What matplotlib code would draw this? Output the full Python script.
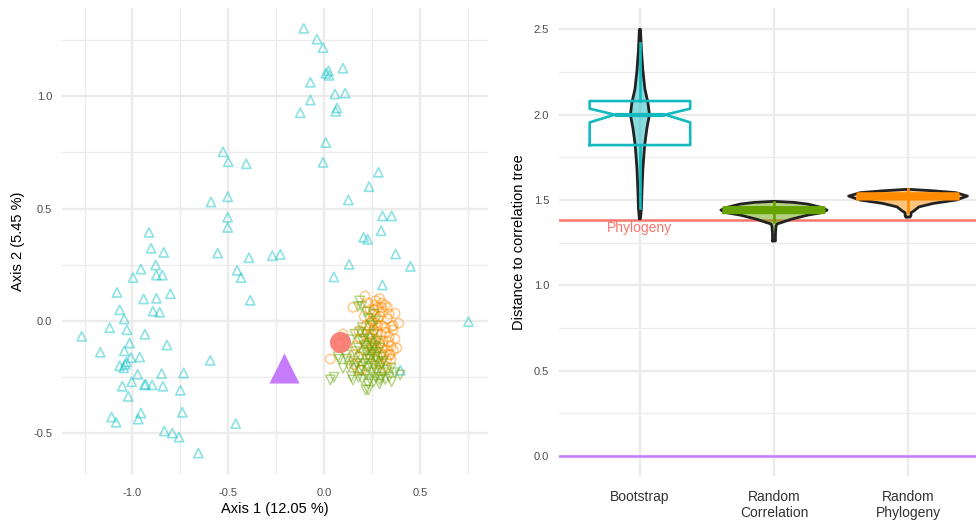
import numpy as np
import matplotlib
matplotlib.use("Agg")
import matplotlib.pyplot as plt

plt.rcParams['font.family'] = ['Liberation Sans', 'DejaVu Sans']

# ---- left panel: ordination points ----
boot_x = [-0.106, -0.037, -0.005, 0.023, 0.009, 0.026, 0.099, -0.071, 0.057, 0.110,
          -0.071, 0.068, 0.061, -0.124, 0.009, -0.005, -0.527, -0.500, -0.406, 0.284,
          0.235, 0.127, -0.590, -0.503, -0.503, -0.503, 0.305, 0.353, 0.298, 0.207,
          0.228, -0.914, -0.903, -0.837, -0.555, -0.392, -0.270, -0.228, 0.374, -0.879,
          -0.956, -0.454, -0.875, -0.844, -0.997, -0.433, 0.131, 0.451, 0.051, 0.305,
          -1.081, -0.875, -0.942, -0.802, -0.385, -1.067, -0.893, -0.858, -1.043, 0.754,
          -1.119, -1.029, -1.265, -0.935, -1.015, -0.820, -1.168, -1.043, -1.008, -0.962,
          -0.594, -1.031, -1.039, -1.067, -1.046, -0.848, -0.973, -0.733, -1.004, -0.931,
          -0.938, -0.897, -1.053, -0.841, -0.750, -1.022, -0.740, -0.956, -0.970, -1.109,
          -1.085, -0.461, -0.834, -0.792, -0.757, -0.656, 0.398]
boot_y = [1.301, 1.253, 1.215, 1.112, 1.101, 1.092, 1.124, 1.061, 1.009, 1.013,
          0.982, 0.947, 0.932, 0.926, 0.793, 0.705, 0.752, 0.708, 0.699, 0.661,
          0.597, 0.538, 0.529, 0.552, 0.461, 0.416, 0.467, 0.467, 0.401, 0.372,
          0.363, 0.394, 0.323, 0.305, 0.302, 0.281, 0.290, 0.296, 0.298, 0.249,
          0.231, 0.225, 0.204, 0.204, 0.193, 0.193, 0.252, 0.243, 0.196, 0.160,
          0.127, 0.101, 0.098, 0.121, 0.092, 0.050, 0.044, 0.039, 0.009, -0.003,
          -0.030, -0.039, -0.068, -0.059, -0.098, -0.107, -0.139, -0.133, -0.163, -0.160,
          -0.175, -0.182, -0.193, -0.199, -0.208, -0.234, -0.237, -0.231, -0.270, -0.281,
          -0.284, -0.284, -0.290, -0.290, -0.308, -0.335, -0.406, -0.409, -0.436, -0.427,
          -0.450, -0.456, -0.489, -0.498, -0.516, -0.587, -0.219]

rphy_x = [0.151, 0.099, 0.082, 0.033, 0.181, 0.188, 0.157, 0.214, 0.266, 0.301,
          0.319, 0.371, 0.353, 0.336, 0.345, 0.327, 0.362, 0.197, 0.24, 0.26,
          0.28, 0.25, 0.27, 0.29, 0.31, 0.30, 0.33, 0.26, 0.28, 0.24,
          0.22, 0.30, 0.32, 0.27, 0.29, 0.31, 0.25, 0.23, 0.34, 0.35,
          0.33, 0.30, 0.27, 0.25, 0.28, 0.31, 0.26, 0.29, 0.32, 0.24,
          0.22, 0.20, 0.19, 0.21, 0.23, 0.27, 0.29, 0.34, 0.36, 0.37,
          0.35, 0.38, 0.36, 0.26, 0.28, 0.30, 0.25, 0.32, 0.34, 0.29,
          0.21, 0.18, 0.17, 0.16, 0.39, 0.28, 0.31, 0.24, 0.33, 0.27]
rphy_y = [0.061, -0.058, -0.099, -0.169, -0.043, -0.218, -0.194, 0.111, 0.071, 0.079,
          0.071, 0.034, -0.025, -0.092, -0.151, -0.173, -0.129, -0.218, 0.05, 0.03,
          0.06, 0.00, -0.01, 0.02, 0.04, -0.02, 0.01, -0.04, -0.05, -0.03,
          -0.02, -0.06, -0.05, -0.08, -0.10, -0.09, -0.09, -0.07, -0.07, -0.11,
          -0.13, -0.12, -0.13, -0.12, -0.16, -0.15, -0.17, -0.19, -0.20, -0.15,
          -0.10, -0.05, -0.08, 0.02, 0.08, 0.09, 0.10, 0.03, -0.04, -0.08,
          -0.17, -0.12, -0.02, 0.05, -0.02, 0.06, -0.06, -0.03, -0.15, -0.22,
          -0.13, -0.16, -0.11, -0.15, -0.01, 0.01, -0.11, -0.01, 0.06, -0.11]

rcor_x = [0.186, 0.178, 0.160, 0.143, 0.073, 0.113, 0.160, 0.033, 0.052, 0.143,
          0.151, 0.195, 0.218, 0.197, 0.231, 0.292, 0.353, 0.397, 0.20, 0.22,
          0.24, 0.21, 0.23, 0.25, 0.22, 0.24, 0.26, 0.28, 0.27, 0.25,
          0.23, 0.21, 0.19, 0.18, 0.20, 0.26, 0.28, 0.30, 0.29, 0.31,
          0.27, 0.24, 0.22, 0.19, 0.17, 0.15, 0.13, 0.12, 0.16, 0.26,
          0.25, 0.23, 0.26, 0.22, 0.33, 0.34, 0.32, 0.30, 0.29, 0.26,
          0.35, 0.37, 0.25, 0.27, 0.24, 0.21, 0.19, 0.28, 0.23, 0.20,
          0.18, 0.10, 0.08, 0.27, 0.30, 0.25, 0.22, 0.29, 0.24, 0.31]
rcor_y = [0.089, 0.064, -0.059, -0.084, -0.159, -0.151, -0.136, -0.262, -0.250, -0.247,
          -0.262, -0.203, -0.307, 0.064, -0.307, -0.262, -0.270, -0.240, -0.03, -0.06,
          -0.08, -0.11, -0.13, -0.15, -0.17, -0.19, -0.20, -0.18, -0.22, -0.23,
          -0.21, -0.19, -0.16, -0.12, -0.09, -0.11, -0.14, -0.16, -0.21, -0.23,
          -0.25, -0.26, -0.24, -0.22, -0.19, -0.18, -0.20, -0.17, -0.21, -0.06,
          -0.02, 0.01, 0.03, 0.04, -0.22, -0.25, -0.26, -0.25, -0.28, -0.27,
          -0.21, -0.23, -0.10, -0.16, -0.12, -0.08, -0.05, -0.09, -0.28, -0.26,
          -0.25, -0.21, -0.17, 0.00, -0.19, -0.14, -0.14, -0.12, -0.17, -0.18]

phylo_pt = (0.082, -0.092)
cortree_pt = (-0.207, -0.210)

# ---- right panel: distance distributions ----
groups = ['Bootstrap', 'Random\nCorrelation', 'Random\nPhylogeny']
group_cols = ['#13B9BF', '#66A300', '#FF8C00']

# violin outlines: y levels and half widths (category units)
boot_vy = [1.39, 1.45, 1.55, 1.68, 1.82, 1.92, 2.00, 2.07, 2.15, 2.26, 2.38, 2.50]
boot_vw = [0.004, 0.011, 0.015, 0.022, 0.035, 0.052, 0.071, 0.060, 0.037, 0.022, 0.011, 0.004]
rcor_vy = [1.26, 1.30, 1.345, 1.36, 1.367, 1.387, 1.412, 1.425, 1.441, 1.457, 1.476, 1.486, 1.492]
rcor_vw = [0.011, 0.011, 0.015, 0.022, 0.052, 0.127, 0.254, 0.351, 0.396, 0.351, 0.254, 0.149, 0.007]
rphy_vy = [1.40, 1.41, 1.425, 1.437, 1.46, 1.48, 1.50, 1.523, 1.543, 1.554, 1.562]
rphy_vw = [0.015, 0.022, 0.022, 0.045, 0.082, 0.187, 0.358, 0.443, 0.358, 0.187, 0.022]

# notched box stats
q1 = [1.822, 1.425, 1.505]
med = [2.000, 1.441, 1.522]
q3 = [2.080, 1.457, 1.538]
whis_lo = [1.453, 1.370, 1.430]
whis_hi = [2.420, 1.490, 1.565]
notch_lo = [1.955, 1.436, 1.517]
notch_hi = [2.035, 1.446, 1.527]

phylogeny_dist = 1.383
cortree_dist = 0.0

fig = plt.figure(figsize=(9.76, 5.2), dpi=100)
ax1 = fig.add_axes([0.0635, 0.0885, 0.4365, 0.896])
ax2 = fig.add_axes([0.5727, 0.0846, 0.4273, 0.900])

grid_col = '#EBEBEB'
tick_col = '#4D4D4D'


def minimal(ax):
    for s in ax.spines.values():
        s.set_visible(False)
    ax.set_axisbelow(True)
    ax.grid(which='major', color=grid_col, lw=1.7)
    ax.grid(which='minor', color=grid_col, lw=0.9)
    ax.tick_params(which='both', length=0)


# left scatter
ax1.scatter(boot_x, boot_y, marker='^', s=44, facecolors='none',
            edgecolors='#00BFC4', linewidths=1.2, alpha=0.45, zorder=3)
ax1.scatter(rphy_x, rphy_y, marker='o', s=46, facecolors='none',
            edgecolors='#FF8C00', linewidths=1.1, alpha=0.45, zorder=3)
ax1.scatter(rcor_x, rcor_y, marker='v', s=46, facecolors='none',
            edgecolors='#66A300', linewidths=1.1, alpha=0.45, zorder=3)
ax1.scatter([phylo_pt[0]], [phylo_pt[1]], marker='o', s=230, color='#F8766D',
            alpha=0.9, linewidths=0, zorder=4)
ax1.scatter([cortree_pt[0]], [cortree_pt[1]], marker='^', s=470, color='#C77CFF',
            linewidths=0, zorder=4)

ax1.set_xlim(-1.368, 0.856)
ax1.set_ylim(-0.68, 1.391)
ax1.set_xticks([-1.0, -0.5, 0.0, 0.5])
ax1.set_xticklabels(['-1.0', '-0.5', '0.0', '0.5'])
ax1.set_xticks([-1.25, -0.75, -0.25, 0.25, 0.75], minor=True)
ax1.set_yticks([-0.5, 0.0, 0.5, 1.0])
ax1.set_yticklabels(['-0.5', '0.0', '0.5', '1.0'])
ax1.set_yticks([-0.25, 0.25, 0.75, 1.25], minor=True)
minimal(ax1)
ax1.tick_params(axis='x', labelsize=8, labelcolor=tick_col, pad=10)
ax1.tick_params(axis='y', labelsize=8, labelcolor=tick_col, pad=7)
ax1.set_xlabel('Axis 1 (12.05 %)', fontsize=10.5, labelpad=3)
ax1.set_ylabel('Axis 2 (5.45 %)', fontsize=10.5, labelpad=6)

# right violins + boxes
ax2.axhline(phylogeny_dist, color='#F8766D', lw=1.8, zorder=1.5)
ax2.axhline(cortree_dist, color='#C77CFF', lw=1.8, zorder=1.5)
ax2.text(1, phylogeny_dist - 0.048, 'Phylogeny', color='#F8766D', fontsize=10,
         ha='center', va='center', zorder=5)

violins = [(boot_vy, boot_vw), (rcor_vy, rcor_vw), (rphy_vy, rphy_vw)]
for i, (vy, vw) in enumerate(violins):
    pos = i + 1
    vy = np.array(vy)
    vw = np.array(vw)
    ax2.fill_betweenx(vy, pos - vw, pos + vw, color=group_cols[i], alpha=0.5,
                      lw=0, zorder=2)
    xs = np.concatenate([pos - vw, (pos + vw)[::-1], [pos - vw[0]]])
    ys = np.concatenate([vy, vy[::-1], [vy[0]]])
    ax2.plot(xs, ys, color='#222222', lw=2.0, solid_joinstyle='round',
             solid_capstyle='round', zorder=2.5)

    stats = [dict(med=med[i], q1=q1[i], q3=q3[i], whislo=whis_lo[i],
                  whishi=whis_hi[i], cilo=notch_lo[i], cihi=notch_hi[i], fliers=[])]
    c = group_cols[i]
    ax2.bxp(stats, positions=[pos], widths=0.75, shownotches=True,
            showcaps=False, showfliers=False, manage_ticks=False,
            boxprops=dict(color=c, lw=1.9),
            medianprops=dict(color=c, lw=3.0),
            whiskerprops=dict(color=c, lw=1.9),
            zorder=3)

ax2.set_xlim(0.396, 3.507)
ax2.set_ylim(-0.117, 2.625)
ax2.set_xticks([1, 2, 3])
ax2.set_xticklabels(groups)
ax2.set_yticks([0.0, 0.5, 1.0, 1.5, 2.0, 2.5])
ax2.set_yticklabels(['0.0', '0.5', '1.0', '1.5', '2.0', '2.5'])
ax2.set_yticks([0.25, 0.75, 1.25, 1.75, 2.25], minor=True)
minimal(ax2)
ax2.tick_params(axis='x', labelsize=10, labelcolor='#333333', pad=10)
ax2.tick_params(axis='y', labelsize=8, labelcolor=tick_col, pad=7)
ax2.set_ylabel('Distance to correlation tree', fontsize=10.5, labelpad=6)

fig.savefig('out.png', dpi=100, facecolor='white')
